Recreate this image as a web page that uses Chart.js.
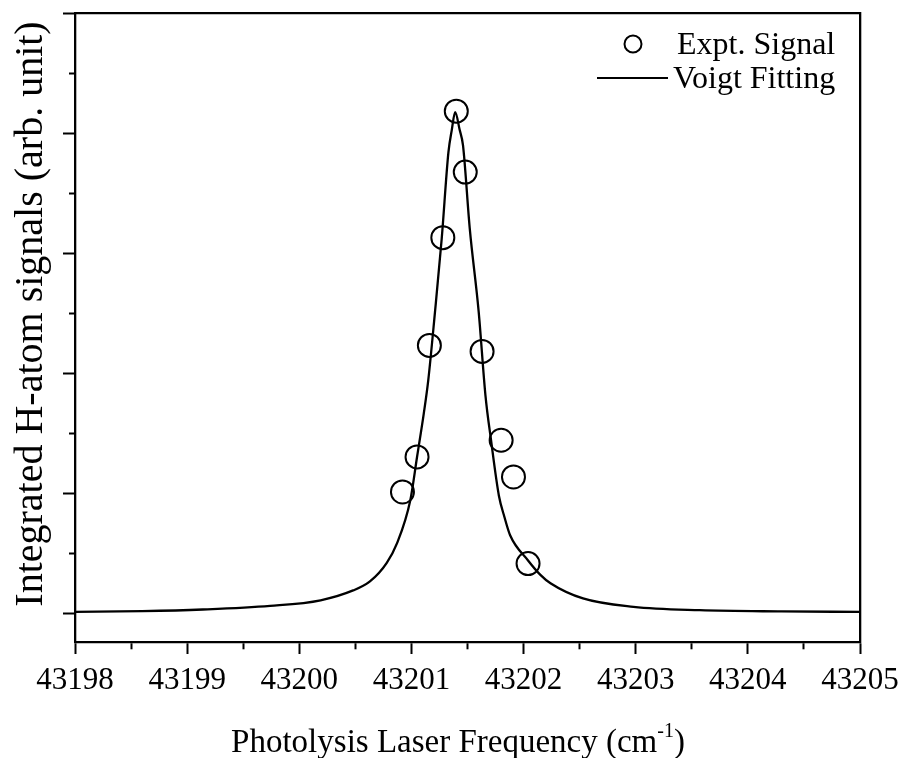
<!DOCTYPE html>
<html>
<head>
<meta charset="utf-8">
<script src="https://cdn.jsdelivr.net/npm/chart.js@4"></script>
<style>
  html, body { margin: 0; padding: 0; background: #fff; }
  #wrap { width: 905px; height: 758px; }
</style>
</head>
<body>
<div id="wrap"><canvas id="chart" width="905" height="758"></canvas></div>
<script>
// -------------------- DATA --------------------
const exptX = [43200.92, 43201.05, 43201.16, 43201.28, 43201.40, 43201.48, 43201.63, 43201.80, 43201.91, 43202.04];
const exptY = [1.011, 1.303, 2.233, 3.131, 4.186, 3.678, 2.183, 1.442, 1.136, 0.414];

const fitX = [43198.0, 43198.6, 43199.14, 43199.74, 43200.19, 43200.48, 43200.63, 43200.78, 43200.87,
  43200.99, 43201.05, 43201.11, 43201.15, 43201.21, 43201.27, 43201.33, 43201.36, 43201.39,
  43201.43, 43201.46, 43201.52, 43201.60, 43201.66, 43201.71, 43201.78, 43201.83, 43201.88, 43202.04,
  43202.15, 43202.24, 43202.53, 43202.98, 43203.57, 43204.3, 43205.0];
const fitY = [0.011, 0.017, 0.031, 0.061, 0.108, 0.19, 0.265, 0.42, 0.58,
  0.942, 1.302, 1.664, 1.942, 2.511, 3.122, 3.844, 4.03, 4.178,
  4.03, 3.90, 3.208, 2.511, 1.817, 1.442, 0.98, 0.80, 0.65, 0.44,
  0.32, 0.25, 0.123, 0.053, 0.025, 0.015, 0.011];

const xRange = [43198, 43205];
const yRange = [-0.24, 5];
const seriesNames = ["Expt. Signal", "Voigt Fitting"];
const xTitle = "Photolysis Laser Frequency (cm";
const xTitleSup = "-1";
const yTitle = "Integrated H-atom signals (arb. unit)";

const FONT = "'Liberation Serif', 'Times New Roman', serif";

// -------------------- PLUGINS --------------------
// axis titles (x title has a superscript) + legend in the upper right corner
const extrasPlugin = {
  id: "extras",
  afterDraw(chart) {
    const ctx = chart.ctx;
    ctx.save();
    ctx.fillStyle = "#000";
    ctx.strokeStyle = "#000";
    ctx.textBaseline = "alphabetic";

    // x title
    const big = "33px " + FONT, small = "20px " + FONT;
    ctx.font = big;
    const w1 = ctx.measureText(xTitle).width;
    const w3 = ctx.measureText(")").width;
    ctx.font = small;
    const w2 = ctx.measureText(xTitleSup).width;
    let x = 458 - (w1 + w2 + w3) / 2;
    const base = 752;
    ctx.font = big;
    ctx.textAlign = "left";
    ctx.fillText(xTitle, x, base);
    x += w1;
    ctx.font = small;
    ctx.fillText(xTitleSup, x, base - 15);
    x += w2;
    ctx.font = big;
    ctx.fillText(")", x, base);

    // y title
    ctx.save();
    ctx.translate(42, 314);
    ctx.rotate(-Math.PI / 2);
    ctx.font = "40px " + FONT;
    ctx.textAlign = "center";
    ctx.fillText(yTitle, 0, 0);
    ctx.restore();

    // legend
    ctx.lineWidth = 2;
    ctx.beginPath();
    ctx.arc(633, 44, 8.5, 0, Math.PI * 2);
    ctx.stroke();
    ctx.beginPath();
    ctx.moveTo(597, 78);
    ctx.lineTo(668, 78);
    ctx.stroke();
    ctx.font = "32px " + FONT;
    ctx.textAlign = "left";
    ctx.fillText(seriesNames[0], 677, 54);
    ctx.fillText(seriesNames[1], 673, 88);
    ctx.restore();
  }
};

// -------------------- CHART --------------------
const ctx = document.getElementById("chart").getContext("2d");
new Chart(ctx, {
  type: "scatter",
  data: {
    datasets: [
      {
        label: seriesNames[0],
        data: exptX.map((x, i) => ({ x, y: exptY[i] })),
        showLine: false,
        pointRadius: 11.5,
        pointHoverRadius: 11.5,
        pointBorderWidth: 2,
        pointBorderColor: "#000",
        pointBackgroundColor: "rgba(0,0,0,0)",
        order: 0
      },
      {
        label: seriesNames[1],
        data: fitX.map((x, i) => ({ x, y: fitY[i] })),
        showLine: true,
        borderColor: "#000",
        borderWidth: 2.3,
        pointRadius: 0,
        cubicInterpolationMode: "monotone",
        fill: false,
        order: 1
      }
    ]
  },
  options: {
    responsive: false,
    animation: false,
    events: [],
    layout: { padding: { left: 0, right: 45, top: 13, bottom: 0 } },
    plugins: { legend: { display: false }, tooltip: { enabled: false } },
    scales: {
      x: {
        type: "linear",
        position: "bottom",
        min: xRange[0],
        max: xRange[1],
        afterFit: (s) => { s.height = 116; s.paddingLeft = 0; s.paddingRight = 0; },
        border: { display: true, color: "#000", width: 2.3 },
        grid: {
          drawOnChartArea: false,
          drawTicks: true,
          tickLength: 12,
          tickWidth: 2,
          tickColor: "#000",
          tickBorderDash: (c) => (Number.isInteger(c.tick.value) ? [] : [6, 100])
        },
        ticks: {
          stepSize: 0.5,
          autoSkip: false,
          maxRotation: 0,
          padding: 8,
          color: "#000",
          font: { family: FONT, size: 31 },
          callback: (v) => (Number.isInteger(v) ? String(v) : "")
        }
      },
      y: {
        type: "linear",
        position: "left",
        min: yRange[0],
        max: yRange[1],
        afterFit: (s) => { s.width = 75; },
        border: { display: true, color: "#000", width: 2.3 },
        grid: {
          drawOnChartArea: false,
          drawTicks: true,
          tickLength: 12,
          tickWidth: 2,
          tickColor: "#000",
          tickBorderDash: (c) => (Number.isInteger(c.tick.value) ? [] : [0, 6, 6, 100])
        },
        ticks: {
          stepSize: 0.5,
          includeBounds: false,
          autoSkip: false,
          display: false
        }
      },
      x2: {
        type: "linear",
        position: "top",
        min: xRange[0],
        max: xRange[1],
        afterFit: (s) => { s.height = 0; },
        border: { display: true, color: "#000", width: 2.3 },
        grid: { drawOnChartArea: false, drawTicks: false },
        ticks: { display: false }
      },
      y2: {
        type: "linear",
        position: "right",
        min: yRange[0],
        max: yRange[1],
        afterFit: (s) => { s.width = 0; },
        border: { display: true, color: "#000", width: 2.3 },
        grid: { drawOnChartArea: false, drawTicks: false },
        ticks: { display: false }
      }
    }
  },
  plugins: [extrasPlugin]
});
</script>
</body>
</html>
